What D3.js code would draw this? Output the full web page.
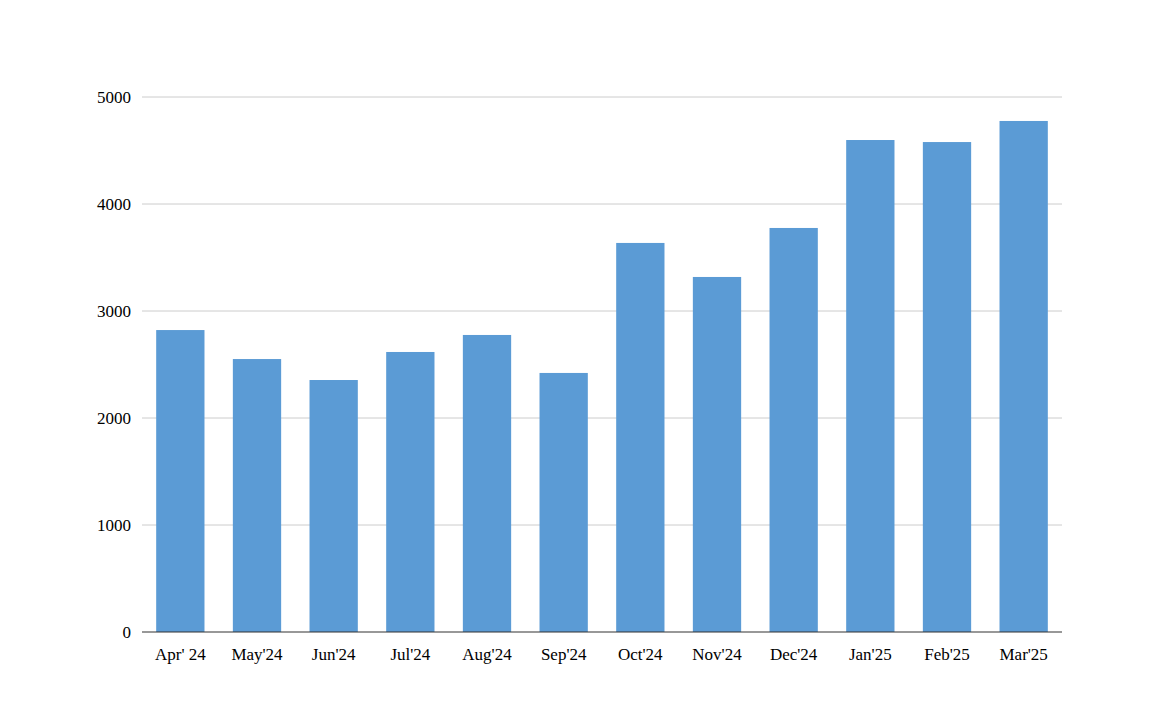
<!DOCTYPE html>
<html><head><meta charset="utf-8">
<script src="https://cdn.jsdelivr.net/npm/d3@7"></script>
<style>body{margin:0;background:#fff}svg{display:block}</style>
</head><body>
<svg id="chart" width="1170" height="702"></svg>
<script>
const months = ["Apr' 24","May'24","Jun'24","Jul'24","Aug'24","Sep'24","Oct'24","Nov'24","Dec'24","Jan'25","Feb'25","Mar'25"];
const values = [2822, 2551, 2355, 2617, 2776, 2421, 3636, 3318, 3776, 4598, 4579, 4776];
const yTicks = [0, 1000, 2000, 3000, 4000, 5000];

let svg = d3.select("#chart");
let mLeft = 142, mRight = 1062, mTop = 97, mBottom = 632;

let x = d3.scaleBand().domain(months).range([mLeft, mRight]).paddingInner(0.37).paddingOuter(0.185);
let y = d3.scaleLinear().domain([0, 5000]).range([mBottom, mTop]);

// gridlines
svg.append("g").selectAll("line").data(yTicks.slice(1)).join("line")
    .attr("x1", mLeft).attr("x2", mRight)
    .attr("y1", d => y(d)).attr("y2", d => y(d))
    .attr("stroke", "#cccccc").attr("stroke-width", 1);

svg.append("g").selectAll("text").data(yTicks).join("text")
    .attr("x", mLeft - 11).attr("y", d => y(d)).attr("dy", "0.35em")
    .attr("text-anchor", "end")
    .style("font-family", "Liberation Serif").style("font-size", "17px")
    .text(d => d);

svg.append("g").selectAll("rect").data(values).join("rect")
    .attr("x", (d, i) => x(months[i])).attr("width", x.bandwidth())
    .attr("y", d => y(d)).attr("height", d => mBottom - y(d))
    .attr("fill", "#5b9bd5");

svg.append("line").attr("x1", mLeft).attr("x2", mRight)
    .attr("y1", mBottom).attr("y2", mBottom).attr("stroke", "#333").attr("stroke-width", 1.2);

svg.append("g").selectAll("text").data(months).join("text")
    .attr("x", d => x(d) + x.bandwidth() / 2).attr("y", 660)
    .attr("text-anchor", "middle")
    .style("font-family", "Liberation Serif").style("font-size", "17px")
    .text(d => d);
</script>
</body></html>
